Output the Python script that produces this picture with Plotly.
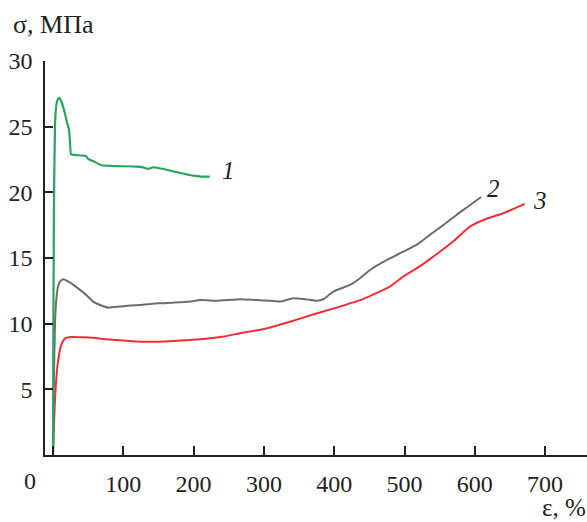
import plotly.graph_objects as go

# Curve 1 (green)
eps1 = [0, 0.5, 1.5, 2.8, 4, 5.2, 7, 9, 12, 17, 20, 22.8, 24, 25.6, 30, 43, 47, 50, 60, 69, 90,
        119, 128, 135.6, 142.7, 150, 157, 175, 199.6, 210, 223]
sig1 = [0.5, 10, 20, 25, 26.3, 26.8, 27.1, 27.2, 26.9, 26.0, 25.3, 24.75, 24.0, 22.9, 22.85, 22.8,
        22.75, 22.55, 22.3, 22.06, 22.0, 21.96, 21.9, 21.78, 21.91, 21.85, 21.78, 21.55, 21.27, 21.2, 21.2]

# Curve 2 (gray)
eps2 = [0, 1, 3, 5, 7, 10, 14.7, 25, 38.4, 48, 57, 68, 78.7, 95, 110, 123.8, 150, 171, 195, 209,
        232.8, 250, 266, 290, 310, 323, 341.8, 360, 375, 384.5, 398.7, 410, 422.5, 436.7, 451, 475,
        498, 520, 536, 555, 574, 590, 609]
sig2 = [0, 5, 10.3, 12.0, 12.8, 13.2, 13.38, 13.1, 12.57, 12.15, 11.68, 11.4, 11.22, 11.3, 11.38,
        11.42, 11.55, 11.6, 11.68, 11.8, 11.75, 11.8, 11.86, 11.8, 11.75, 11.68, 11.93, 11.85, 11.75,
        11.86, 12.44, 12.7, 12.95, 13.46, 14.09, 14.85, 15.48, 16.1, 16.76, 17.5, 18.28, 18.9, 19.65]

# Curve 3 (red)
eps3 = [0, 0.5, 1.5, 2.8, 4.5, 6.1, 8.5, 10.9, 14, 18, 25, 43, 60, 76, 100, 124, 150, 171, 195, 209,
        240, 266, 300, 337, 370, 408, 440, 479, 498, 520, 546, 570, 593, 615, 640.5, 671]
sig3 = [0, 0.9, 2.5, 4.2, 5.7, 6.7, 7.6, 8.25, 8.65, 8.9, 8.98, 8.96, 8.9, 8.81, 8.72, 8.63, 8.63,
        8.68, 8.76, 8.81, 9.0, 9.27, 9.6, 10.15, 10.7, 11.3, 11.85, 12.82, 13.58, 14.3, 15.31, 16.3,
        17.39, 17.95, 18.41, 19.12]

x_ticks = [0, 100, 200, 300, 400, 500, 600, 700]
x_ticktext = ["", "100", "200", "300", "400", "500", "600", "700"]
y_ticks = [5, 10, 15, 20, 25, 30]

curve_labels = ["1", "2", "3"]
label_pos = [(249, 21.7), (626, 20.3), (693, 19.4)]

FONT = "Liberation Serif"
AX = "#231f20"
TXT = "#231f20"

fig = go.Figure()
fig.add_trace(go.Scatter(x=eps3, y=sig3, mode="lines",
                         line=dict(color="#ee3036", width=2, shape="spline", smoothing=0.5)))
fig.add_trace(go.Scatter(x=eps2, y=sig2, mode="lines",
                         line=dict(color="#6d6d6d", width=2, shape="spline", smoothing=0.5)))
fig.add_trace(go.Scatter(x=eps1, y=sig1, mode="lines",
                         line=dict(color="#2aa55e", width=2.2, shape="spline", smoothing=0.4)))

for t, (lx, ly) in zip(curve_labels, label_pos):
    fig.add_annotation(x=lx, y=ly, text=f"<i>{t}</i>", showarrow=False,
                       font=dict(family=FONT, size=25, color=TXT),
                       xanchor="center", yanchor="middle")

fig.add_annotation(xref="paper", yref="paper", x=(30 - 45) / 542, y=(455 - 481) / 394,
                   text="0", showarrow=False, xanchor="center", yanchor="middle",
                   font=dict(family=FONT, size=24, color=TXT))
fig.add_annotation(xref="paper", yref="paper", x=(11 - 45) / 542, y=(455 - 25) / 394,
                   text="σ, МПа", showarrow=False, xanchor="left", yanchor="middle",
                   font=dict(family=FONT, size=26, color=TXT))
fig.add_annotation(xref="paper", yref="paper", x=(540 - 45) / 542, y=(455 - 507) / 394,
                   text="ε, %", showarrow=False, xanchor="left", yanchor="middle",
                   font=dict(family=FONT, size=25, color=TXT))

fig.update_layout(
    width=587, height=522,
    margin=dict(l=45, r=0, t=61, b=67),
    paper_bgcolor="white", plot_bgcolor="white",
    showlegend=False,
    font=dict(family=FONT, size=24, color=TXT),
    xaxis=dict(range=[-11.4, 759.6], tickvals=x_ticks, ticktext=x_ticktext,
               showline=True, linecolor=AX, linewidth=1.5, ticks="inside", ticklen=9,
               tickwidth=1.5, tickcolor=AX, showgrid=False, zeroline=False,
               ticklabelstandoff=6,
               tickfont=dict(family=FONT, size=24, color=TXT)),
    yaxis=dict(range=[0, 30], tickvals=y_ticks, showline=True, linecolor=AX, linewidth=1.5,
               ticks="inside", ticklen=8, tickwidth=1.5, tickcolor=AX, showgrid=False,
               zeroline=False, ticklabelstandoff=6,
               tickfont=dict(family=FONT, size=24, color=TXT)),
)

fig.write_html("out.html")
